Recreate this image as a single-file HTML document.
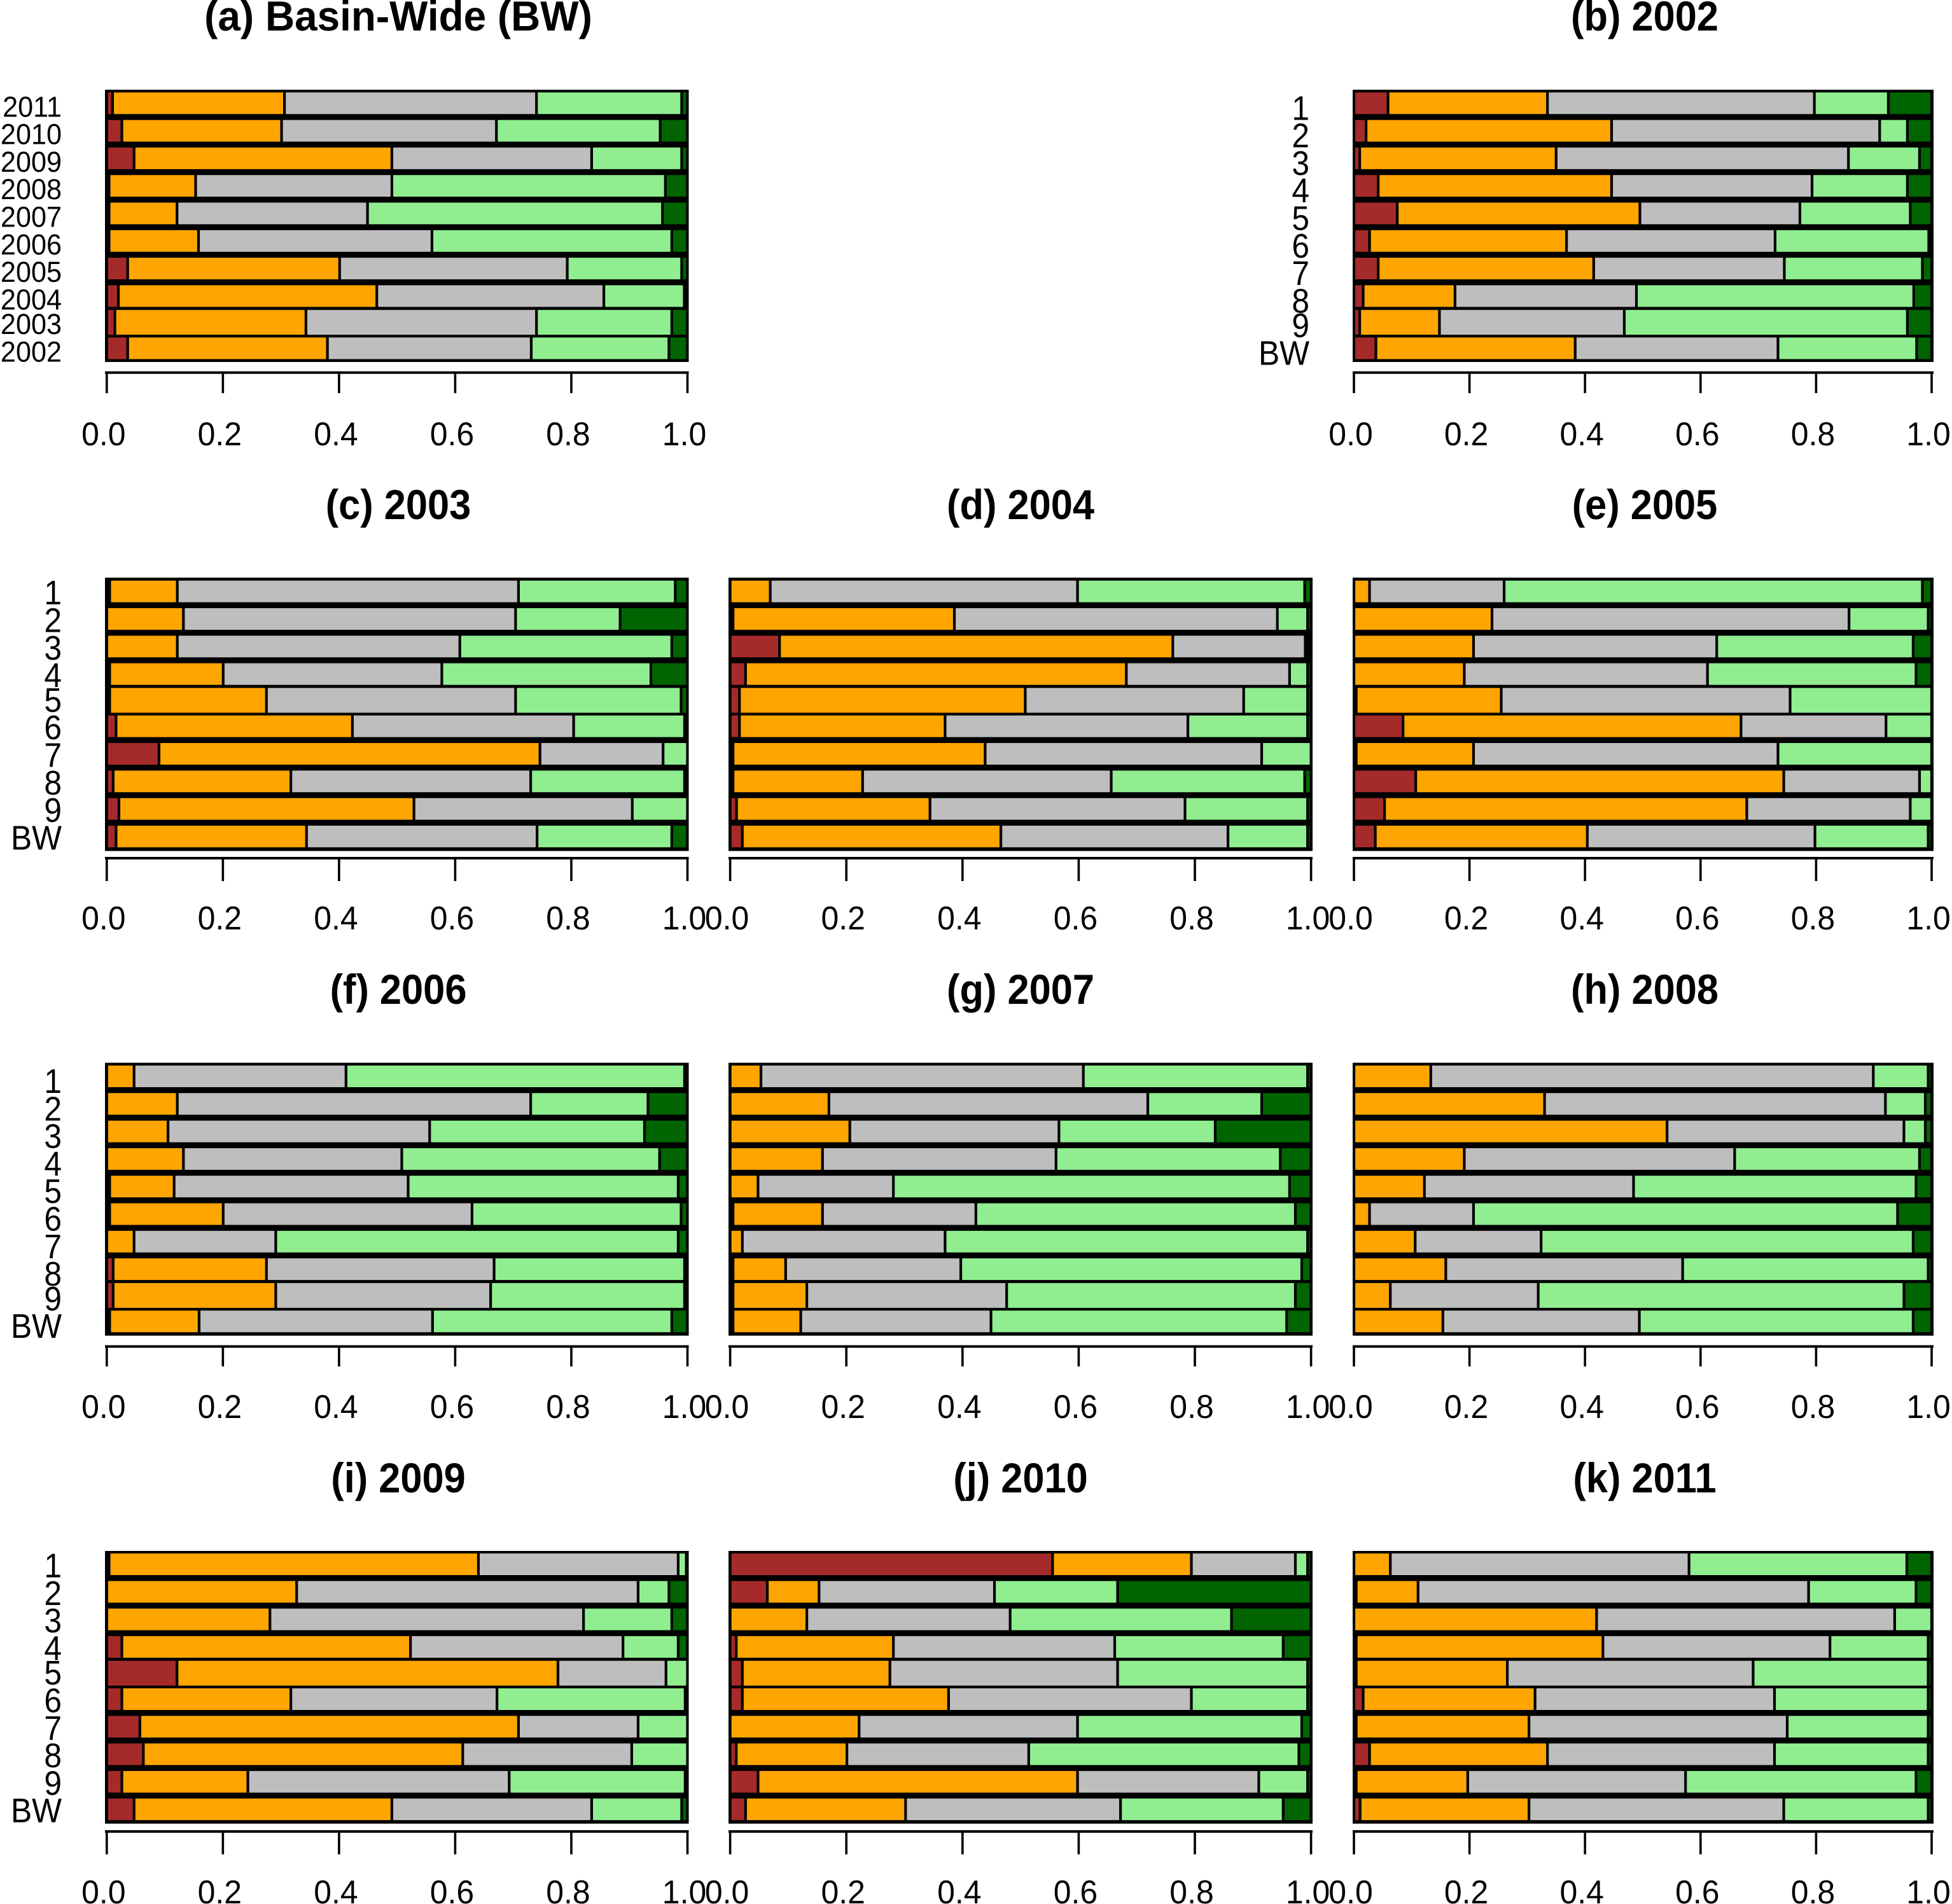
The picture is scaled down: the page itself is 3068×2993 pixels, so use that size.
<!DOCTYPE html>
<html lang="en">
<head>
<meta charset="utf-8">
<title>Stacked proportion bars by catchment and year</title>
<style>
html,body{margin:0;padding:0;background:#fff;width:3068px;height:2993px;overflow:hidden}
svg{display:block}
text{font-family:"Liberation Sans",sans-serif;fill:#000}
</style>
</head>
<body>
<svg id="figure" xmlns="http://www.w3.org/2000/svg" width="3068" height="2993" viewBox="0 0 3068 2993"></svg>
<script>
// Category and axis labels
const yearLabels = ['2011','2010','2009','2008','2007','2006','2005','2004','2003','2002'];
const catchmentLabels = ['1','2','3','4','5','6','7','8','9','BW'];
const tickValues = [0,0.2,0.4,0.6,0.8,1];
const tickLabels = ['0.0','0.2','0.4','0.6','0.8','1.0'];
const seriesNames = ['brown','orange','gray','light-green','dark-green'];

// Each row: cumulative share at the end of brown, orange, gray, light green (dark green fills to 1.0)
const valuesBasinWide = [[.010,.306,.740,.990],[.026,.301,.671,.953],[.047,.491,.835,.990],[.004,.153,.491,.962],[.004,.121,.449,.957],[.004,.158,.560,.973],[.036,.401,.793,.990],[.020,.465,.856,.9945],[.014,.343,.740,.973],[.036,.380,.731,.968]];
const values2002 = [[.059,.335,.797,.925],[.021,.446,.910,.958],[.010,.350,.856,.979],[.042,.446,.793,.958],[.075,.495,.772,.963],[.027,.368,.729,.995],[.042,.415,.745,.984],[.016,.175,.489,.969],[.010,.148,.468,.958],[.038,.383,.734,.974]];
const values2003 = [[.005,.1215,.709,.979],[0,.132,.704,.884],[0,.1215,.608,.973],[.005,.2005,.577,.937],[.005,.275,.704,.989],[.016,.423,.804,.995],[.090,.746,.958,1],[.011,.317,.730,.995],[.021,.529,.905,1],[.016,.344,.741,.973]];
const values2004 = [[0,.069,.598,.989],[.005,.386,.942,.994],[.085,.762,.990,.995],[.0265,.682,.963,.994],[.016,.508,.884,.994],[.016,.370,.788,.994],[.005,.439,.915,1],[.005,.228,.656,.989],[.011,.344,.783,.994],[.021,.466,.857,.994]];
const values2005 = [[0,.027,.260,.984],[0,.239,.857,.994],[0,.207,.628,.968],[0,.191,.612,.973],[.004,.255,.755,1],[.085,.670,.921,1],[.004,.207,.734,1],[.107,.744,.979,1],[.053,.680,.963,1],[.037,.404,.798,.994]];
const values2006 = [[0,.047,.412,.995],[0,.1215,.730,.932],[0,.1055,.556,.926],[0,.132,.508,.952],[.005,.116,.519,.984],[.005,.2005,.629,.989],[0,.047,.291,.984],[.011,.275,.667,.995],[.011,.291,.661,.995],[.005,.159,.561,.973]];
const values2007 = [[0,.053,.608,.994],[0,.170,.719,.915],[0,.206,.566,.835],[0,.159,.561,.947],[0,.048,.281,.963],[.005,.159,.423,.973],[0,.021,.370,.994],[.005,.0955,.397,.984],[.005,.132,.476,.973],[.005,.1215,.449,.958]];
const values2008 = [[0,.133,.899,.994],[0,.330,.920,.989],[0,.542,.952,.989],[0,.191,.659,.979],[0,.122,.484,.973],[0,.027,.207,.941],[0,.106,.324,.968],[0,.159,.569,.994],[0,.063,.319,.952],[0,.154,.494,.968]];
const values2009 = [[.004,.640,.984,.998],[0,.327,.915,.968],[0,.281,.821,.973],[.026,.523,.889,.984],[.121,.777,.963,1],[.026,.317,.672,.996],[.057,.709,.915,1],[.063,.613,.904,1],[.026,.243,.693,.996],[.047,.491,.835,.990]];
const values2010 = [[.555,.794,.973,.994],[.064,.153,.455,.667],[0,.132,.482,.863],[.0105,.281,.662,.952],[.021,.275,.667,.994],[.021,.376,.794,.994],[0,.222,.598,.984],[.0105,.201,.514,.979],[.048,.598,.910,.994],[.0265,.302,.672,.952]];
const values2011 = [[0,.063,.580,.957],[.004,.111,.787,.973],[0,.420,.936,1],[.004,.431,.824,.994],[.004,.2655,.691,.994],[.016,.3135,.728,.994],[.004,.303,.750,.994],[.027,.335,.728,.994],[.004,.197,.574,.973],[.0107,.303,.744,.994]];

// Page layout (not data)
const columnLayout = {
  one:   {plotStart:167.8, plotEnd:1080.5, boxLeft:165,  boxRight:1082.5, labelRight:97,   titleCenter:626},
  two:   {plotStart:1147.6,plotEnd:2060.6, boxLeft:1145, boxRight:2063,   labelRight:1077, titleCenter:1604},
  three: {plotStart:2128,  plotEnd:3036,   boxLeft:2126, boxRight:3039,   labelRight:2058, titleCenter:2585}
};
const rowLayout = {
  first:  {titleBase:48,   boxTop:141,  boxBottom:569,    barStart:145.3, tallRow:8, axisY:585.7,  tickEnd:618,  tickBase:700,  labelDrop:43},
  second: {titleBase:816,  boxTop:908,  boxBottom:1337.7, barStart:912.7, tallRow:4, axisY:1349,   tickEnd:1385, tickBase:1461, labelDrop:37.5},
  third:  {titleBase:1578, boxTop:1670.6,boxBottom:2099.6,barStart:1675,  tallRow:8, axisY:2116.6, tickEnd:2148, tickBase:2229, labelDrop:43},
  fourth: {titleBase:2346, boxTop:2438, boxBottom:2866.7, barStart:2442,  tallRow:4, axisY:2879,   tickEnd:2915, tickBase:2992, labelDrop:37.5}
};
const panelList = [
  {key:'a', title:'(a) Basin-Wide (BW)', titleSqueeze:.968, column:'one', row:'first', values:valuesBasinWide, labels:yearLabels, labelSize:45, labelSqueeze:.96, labelDrop:38},
  {key:'b', title:'(b) 2002', titleSqueeze:.93, column:'three', row:'first',  values:values2002, labels:catchmentLabels, labelSize:54, labelSqueeze:.92},
  {key:'c', title:'(c) 2003', titleSqueeze:.93, column:'one',   row:'second', values:values2003, labels:catchmentLabels, labelSize:54, labelSqueeze:.92},
  {key:'d', title:'(d) 2004', titleSqueeze:.93, column:'two',   row:'second', values:values2004, labels:null},
  {key:'e', title:'(e) 2005', titleSqueeze:.93, column:'three', row:'second', values:values2005, labels:null},
  {key:'f', title:'(f) 2006', titleSqueeze:.93, column:'one',   row:'third',  values:values2006, labels:catchmentLabels, labelSize:54, labelSqueeze:.92},
  {key:'g', title:'(g) 2007', titleSqueeze:.93, column:'two',   row:'third',  values:values2007, labels:null},
  {key:'h', title:'(h) 2008', titleSqueeze:.93, column:'three', row:'third',  values:values2008, labels:null},
  {key:'i', title:'(i) 2009', titleSqueeze:.93, column:'one',   row:'fourth', values:values2009, labels:catchmentLabels, labelSize:54, labelSqueeze:.92},
  {key:'j', title:'(j) 2010', titleSqueeze:.93, column:'two',   row:'fourth', values:values2010, labels:null},
  {key:'k', title:'(k) 2011', titleSqueeze:.93, column:'three', row:'fourth', values:values2011, labels:null}
];

const SVG_NS = 'http://www.w3.org/2000/svg';
const figure = document.getElementById('figure');
const rowPitch = 43.3, barHeight = 34, seamShift = 4.5, seamGrow = 5, edge = 2.1;

function fillFor(seriesIndex) {
  return ['#a52a2a','#ffa500','#bebebe','#90ee90','#006400'][seriesIndex];
}
function make(tag, parent, props) {
  const el = document.createElementNS(SVG_NS, tag);
  for (const k in props) el.setAttribute(k, props[k]);
  parent.appendChild(el);
  return el;
}
function placeText(x, y, squeeze) {
  return 'translate(' + x + ',' + y + ') scale(' + squeeze + ',1)';
}

panelList.forEach(function (panel) {
  const col = columnLayout[panel.column];
  const row = rowLayout[panel.row];
  const xScale = function (v) { return col.plotStart + v * (col.plotEnd - col.plotStart); };
  const rowTop = function (i) { return row.barStart + i * rowPitch - (i >= row.tallRow ? seamShift : 0); };
  const rowSize = function (i) { return barHeight + (i === row.tallRow ? seamGrow : 0); };
  const labelDrop = panel.labelDrop || row.labelDrop;

  const group = make('g', figure, {});
  
  

  const title = make('text', group, {transform: placeText(col.titleCenter, row.titleBase, panel.titleSqueeze), 'text-anchor': 'middle', 'font-size': 66, 'font-weight': 'bold'});
  
  
  title.textContent = panel.title;

  const box = make('rect', group, {x: col.boxLeft, y: row.boxTop, width: col.boxRight - col.boxLeft, height: row.boxBottom - row.boxTop, fill: '#000'});
  
  

  panel.values.forEach(function (breaks, i) {
    for (let s = 0; s < seriesNames.length; s++) {
      const from = s === 0 ? 0 : breaks[s - 1];
      const to = s === seriesNames.length - 1 ? 1 : breaks[s];
      const left = xScale(from) + edge;
      const right = xScale(to) - edge;
      if (right - left <= 1) continue;
      const seg = make('rect', group, {x: left, y: rowTop(i), width: right - left, height: rowSize(i), fill: fillFor(s)});
      
      
    }
    if (panel.labels) {
      const lab = make('text', group, {transform: placeText(col.labelRight, rowTop(i) + labelDrop, panel.labelSqueeze), 'text-anchor': 'end', 'font-size': panel.labelSize});
      
      
      lab.textContent = panel.labels[i];
    }
  });

  const axis = make('rect', group, {x: col.boxLeft, y: row.axisY - 2, width: col.boxRight - col.boxLeft, height: 4, fill: '#000'});
  
  

  tickValues.forEach(function (v, t) {
    const tick = make('rect', group, {x: xScale(v) - 1.8, y: row.axisY, width: 3.6, height: row.tickEnd - row.axisY, fill: '#000'});
    
    
    const tl = make('text', group, {transform: placeText(xScale(v) - 5, row.tickBase, .96), 'text-anchor': 'middle', 'font-size': 52});
    
    
    tl.textContent = tickLabels[t];
  });
});
</script>
</body>
</html>
